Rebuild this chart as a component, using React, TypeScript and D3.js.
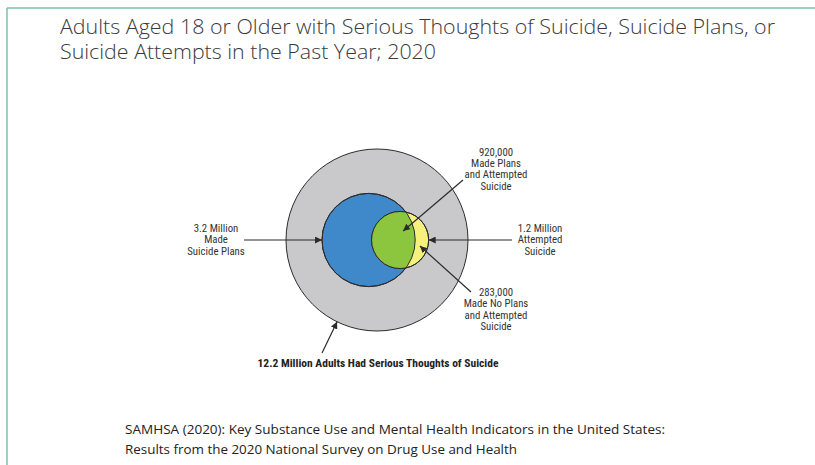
import React from "react";
import * as d3 from "d3";

const W = 815;
const H = 465;

// Data (millions of adults, 2020)
const groupNames = ["Serious Thoughts", "Made Plans", "Attempted", "Plans and Attempted", "No Plans and Attempted"];
const groupValues = [12.2, 3.2, 1.2, 0.92, 0.283];

const titleLines = [
  "Adults Aged 18 or Older with Serious Thoughts of Suicide, Suicide Plans, or",
  "Suicide Attempts in the Past Year; 2020",
];
const sourceLines = [
  "SAMHSA (2020): Key Substance Use and Mental Health Indicators in the United States:",
  "Results from the 2020 National Survey on Drug Use and Health",
];
const labelPlans = ["3.2 Million", "Made", "Suicide Plans"];
const labelAttempt = ["1.2 Million", "Attempted", "Suicide"];
const labelBoth = ["920,000", "Made Plans", "and Attempted", "Suicide"];
const labelNoPlans = ["283,000", "Made No Plans", "and Attempted", "Suicide"];
const labelThoughts = "12.2 Million Adults Had Serious Thoughts of Suicide";

const COLORS = {
  gray: "#c9c9cb",
  blue: "#3f88c9",
  yellow: "#f6f07c",
  green: "#8cc63f",
  stroke: "#2b2b2b",
  border: "#7fbfa9",
};

function lensArea(d: number, R: number, r: number) {
  if (d >= R + r) return 0;
  if (d <= R - r) return Math.PI * r * r;
  const a1 = Math.acos((d * d + r * r - R * R) / (2 * d * r));
  const a2 = Math.acos((d * d + R * R - r * r) / (2 * d * R));
  return r * r * (a1 - 0.5 * Math.sin(2 * a1)) + R * R * (a2 - 0.5 * Math.sin(2 * a2));
}

function solveDistance(R: number, r: number, target: number) {
  let lo = R - r;
  let hi = R + r;
  for (let i = 0; i < 60; i++) {
    const mid = (lo + hi) / 2;
    if (lensArea(mid, R, r) > target) lo = mid;
    else hi = mid;
  }
  return (lo + hi) / 2;
}

const LABEL_FONT = "'Liberation Sans Narrow', 'Arial Narrow', 'Roboto Condensed', sans-serif";
const TEXT_FONT = "'Open Sans', Lato, sans-serif";

export default function App() {
  const rScale = d3.scaleSqrt().domain([0, groupValues[0]]).range([0, 91]);
  const cx = 377;
  const cy = 240;
  const rGray = rScale(groupValues[0]);
  const rBlue = rScale(groupValues[1]);
  const rYellow = rScale(groupValues[2]);
  const blueCx = cx - rGray + 36 + rBlue;
  const target = (groupValues[3] / groupValues[2]) * Math.PI * rYellow * rYellow;
  const dist = solveDistance(rBlue, rYellow, target);
  const yellowCx = blueCx + dist;

  const bottomAngle = (116 * Math.PI) / 180;
  const bottomPt = [cx + rGray * Math.cos(bottomAngle), cy + rGray * Math.sin(bottomAngle)];
  const crescentX = (blueCx + rBlue + yellowCx + rYellow) / 2;

  const lineH = 11.4;
  const textBlock = (lines: string[], x: number, y0: number, key: string) => (
    <text key={key} x={x} y={y0} textAnchor="middle" fontFamily={LABEL_FONT} fontSize={10.8} fill="#333">
      {lines.map((l, i) => (
        <tspan key={i} x={x} y={y0 + i * lineH}>
          {l}
        </tspan>
      ))}
    </text>
  );

  const arrows = [
    { x1: 244, y1: cy, x2: blueCx - rBlue, y2: cy },
    { x1: 512, y1: cy, x2: yellowCx + rYellow, y2: cy },
    { x1: 463, y1: 180, x2: yellowCx + 3, y2: cy - 9 },
    { x1: 471, y1: 292, x2: crescentX - 2, y2: cy + 6 },
    { x1: 322, y1: 353, x2: bottomPt[0], y2: bottomPt[1] },
  ];

  return (
    <svg width={W} height={H} style={{ position: "absolute", left: 0, top: 0, background: "#fff" }}>
      <defs>
        <marker id="arr" viewBox="0 0 10 10" refX="10" refY="5" markerWidth="7" markerHeight="7" orient="auto" markerUnits="userSpaceOnUse">
          <path d="M0,0 L10,5 L0,10 z" fill={COLORS.stroke} />
        </marker>
        <clipPath id="blueClip">
          <circle cx={blueCx} cy={cy} r={rBlue} />
        </clipPath>
      </defs>
      <rect x={0} y={0} width={W} height={H} fill="#fff" />
      <line x1={7} y1={8} x2={W} y2={8} stroke={COLORS.border} strokeWidth={1.5} />
      <line x1={7} y1={8} x2={7} y2={H} stroke={COLORS.border} strokeWidth={1.5} />

      {titleLines.map((t, i) => (
        <text key={t} x={60} y={34 + i * 25} fontFamily={TEXT_FONT} fontWeight={300} fontSize={20} fill="#3a3a3a"
          textLength={i === 0 ? 715 : 376} lengthAdjust="spacingAndGlyphs">
          {t}
        </text>
      ))}

      <circle cx={cx} cy={cy} r={rGray} fill={COLORS.gray} stroke={COLORS.stroke} strokeWidth={1} />
      <circle cx={blueCx} cy={cy} r={rBlue} fill={COLORS.blue} stroke={COLORS.stroke} strokeWidth={1} />
      <circle cx={yellowCx} cy={cy} r={rYellow} fill={COLORS.yellow} stroke={COLORS.stroke} strokeWidth={1} />
      <circle cx={yellowCx} cy={cy} r={rYellow} fill={COLORS.green} clipPath="url(#blueClip)" />
      <circle cx={blueCx} cy={cy} r={rBlue} fill="none" stroke={COLORS.stroke} strokeWidth={1} />
      <circle cx={yellowCx} cy={cy} r={rYellow} fill="none" stroke={COLORS.stroke} strokeWidth={1} />

      {arrows.map((a, i) => (
        <line key={i} x1={a.x1} y1={a.y1} x2={a.x2} y2={a.y2} stroke={COLORS.stroke} strokeWidth={1.2} markerEnd="url(#arr)" />
      ))}

      {textBlock(labelPlans, 216, 232, "plans")}
      {textBlock(labelAttempt, 540, 232, "att")}
      {textBlock(labelBoth, 496, 155.5, "both")}
      {textBlock(labelNoPlans, 496, 296, "noplans")}
      <text x={378} y={367} textAnchor="middle" fontFamily={LABEL_FONT} fontWeight="bold" fontSize={11.5} fill="#222">
        {labelThoughts}
      </text>

      {sourceLines.map((t, i) => (
        <text key={t} x={125} y={434 + i * 20} fontFamily={TEXT_FONT} fontSize={13.5} fill="#222"
          textLength={i === 0 ? 540 : 392} lengthAdjust="spacingAndGlyphs">
          {t}
        </text>
      ))}
      <title>{groupNames.join(", ")}</title>
    </svg>
  );
}
